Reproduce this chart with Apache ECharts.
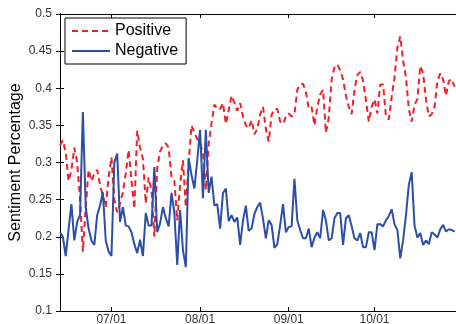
<!DOCTYPE html>
<html>
<head>
<meta charset="utf-8">
<script src="https://cdn.jsdelivr.net/npm/echarts@6/dist/echarts.min.js"></script>
<style>
  html, body { margin: 0; padding: 0; background: #fff; }
  #chart { width: 456px; height: 324px; }
</style>
</head>
<body>
<div id="chart"></div>
<script>
// first day of the series (daily data)
const startDay = Date.UTC(2012, 5, 13);
const DAY = 86400000;

// month ticks on the x axis
const tickDates = ['2012-07-01', '2012-08-01', '2012-09-01', '2012-10-01'];

const positive = [
  0.323, 0.330, 0.314, 0.275, 0.290, 0.320, 0.300, 0.252, 0.180, 0.240,
  0.290, 0.275, 0.285, 0.290, 0.270, 0.255, 0.240, 0.280, 0.307, 0.250,
  0.233, 0.245, 0.260, 0.285, 0.317, 0.276, 0.238, 0.343, 0.320, 0.305,
  0.245, 0.280, 0.263, 0.200, 0.292, 0.315, 0.323, 0.326, 0.320, 0.280,
  0.275, 0.222, 0.270, 0.303, 0.240, 0.300, 0.350, 0.340, 0.332, 0.326,
  0.313, 0.263, 0.325, 0.353, 0.378, 0.372, 0.372, 0.380, 0.352, 0.370,
  0.390, 0.380, 0.370, 0.380, 0.362, 0.350, 0.346, 0.357, 0.338, 0.345,
  0.365, 0.375, 0.345, 0.328, 0.364, 0.372, 0.372, 0.355, 0.352, 0.362,
  0.366, 0.362, 0.365, 0.398, 0.405, 0.406, 0.395, 0.373, 0.375, 0.350,
  0.375, 0.392, 0.398, 0.340, 0.360, 0.412, 0.428, 0.432, 0.424, 0.412,
  0.390, 0.375, 0.365, 0.398, 0.418, 0.422, 0.410, 0.384, 0.355, 0.375,
  0.385, 0.366, 0.405, 0.405, 0.362, 0.358, 0.388, 0.415, 0.455, 0.470,
  0.437, 0.415, 0.372, 0.355, 0.378, 0.385, 0.430, 0.420, 0.385, 0.362,
  0.365, 0.375, 0.410, 0.420, 0.412, 0.390, 0.410, 0.412, 0.402
];

const negative = [
  0.206, 0.200, 0.174, 0.210, 0.244, 0.195, 0.220, 0.229, 0.368, 0.240,
  0.211, 0.195, 0.189, 0.229, 0.242, 0.260, 0.195, 0.180, 0.174, 0.300,
  0.312, 0.220, 0.240, 0.215, 0.214, 0.206, 0.190, 0.178, 0.196, 0.174,
  0.232, 0.215, 0.215, 0.294, 0.206, 0.218, 0.240, 0.225, 0.214, 0.259,
  0.232, 0.162, 0.236, 0.182, 0.159, 0.306, 0.283, 0.265, 0.303, 0.344,
  0.252, 0.344, 0.259, 0.281, 0.242, 0.244, 0.211, 0.259, 0.265, 0.221,
  0.229, 0.220, 0.226, 0.189, 0.222, 0.242, 0.208, 0.211, 0.231, 0.240,
  0.246, 0.224, 0.198, 0.222, 0.216, 0.185, 0.190, 0.216, 0.244, 0.206,
  0.213, 0.214, 0.278, 0.222, 0.209, 0.198, 0.198, 0.211, 0.186, 0.199,
  0.206, 0.198, 0.236, 0.222, 0.195, 0.198, 0.225, 0.232, 0.232, 0.189,
  0.225, 0.229, 0.214, 0.198, 0.195, 0.205, 0.186, 0.186, 0.206, 0.206,
  0.182, 0.217, 0.217, 0.214, 0.222, 0.228, 0.237, 0.217, 0.209, 0.171,
  0.195, 0.229, 0.270, 0.287, 0.215, 0.199, 0.205, 0.189, 0.195, 0.190,
  0.206, 0.203, 0.199, 0.210, 0.216, 0.207, 0.210, 0.209, 0.207
];

// x is measured in days since startDay
const toPairs = arr => arr.map((v, i) => [i, v]);
const tickValues = tickDates.map(d => (Date.parse(d + 'T00:00:00Z') - startDay) / DAY);
const xMin = 0;
const xMax = 138.5;

const fmtDate = v => {
  const d = new Date(startDay + v * DAY);
  const mm = String(d.getUTCMonth() + 1).padStart(2, '0');
  const dd = String(d.getUTCDate()).padStart(2, '0');
  return mm + '/' + dd;
};

const font = 'Liberation Sans';
const axisLineStyle = { color: '#000', width: 1 };

const chart = echarts.init(document.getElementById('chart'));
chart.setOption({
  animation: false,
  textStyle: { fontFamily: font },
  grid: { left: 60, right: 0, top: 14, bottom: 13, outerBoundsMode: 'none', containLabel: false },
  legend: {
    orient: 'vertical',
    left: 65,
    top: 18,
    padding: [5, 8, 5, 6],
    itemGap: 4,
    itemWidth: 38,
    itemHeight: 14,
    borderColor: '#000',
    borderWidth: 1,
    itemStyle: { opacity: 0 },
    textStyle: { fontSize: 16, color: '#000', fontFamily: font },
    data: ['Positive', 'Negative']
  },
  xAxis: [
    {
      type: 'value',
      min: xMin,
      max: xMax,
      axisLine: { lineStyle: axisLineStyle },
      axisTick: { inside: true, length: 4, customValues: tickValues, lineStyle: { color: '#000' } },
      axisLabel: { customValues: tickValues, formatter: fmtDate, fontSize: 12, color: '#333', margin: 3 },
      splitLine: { show: false }
    },
    {
      type: 'value',
      position: 'top',
      min: xMin,
      max: xMax,
      axisLine: { lineStyle: axisLineStyle },
      axisTick: { inside: true, length: 4, customValues: tickValues, lineStyle: { color: '#000' } },
      axisLabel: { show: false },
      splitLine: { show: false }
    }
  ],
  yAxis: [
    {
      type: 'value',
      min: 0.1,
      max: 0.5,
      interval: 0.05,
      name: 'Sentiment Percentage',
      nameLocation: 'middle',
      nameGap: 36,
      nameMoveOverlap: false,
      nameTextStyle: { fontSize: 16, color: '#000' },
      axisLine: { show: true, lineStyle: axisLineStyle },
      axisTick: { show: true, inside: true, length: 4, lineStyle: { color: '#000' } },
      axisLabel: { fontSize: 12, color: '#333', margin: 8 },
      splitLine: { show: false }
    },
    {
      type: 'value',
      position: 'right',
      min: 0.1,
      max: 0.5,
      interval: 0.05,
      axisLine: { show: true, lineStyle: axisLineStyle },
      axisTick: { show: true, inside: true, length: 4, lineStyle: { color: '#000' } },
      axisLabel: { show: false },
      splitLine: { show: false }
    }
  ],
  series: [
    {
      name: 'Positive',
      type: 'line',
      symbol: 'none',
      data: toPairs(positive),
      color: '#f0202a',
      lineStyle: { color: '#f0202a', width: 2, type: [6, 4] }
    },
    {
      name: 'Negative',
      type: 'line',
      symbol: 'none',
      data: toPairs(negative),
      color: '#2b4ea6',
      lineStyle: { color: '#2b4ea6', width: 2 }
    }
  ]
});
</script>
</body>
</html>
